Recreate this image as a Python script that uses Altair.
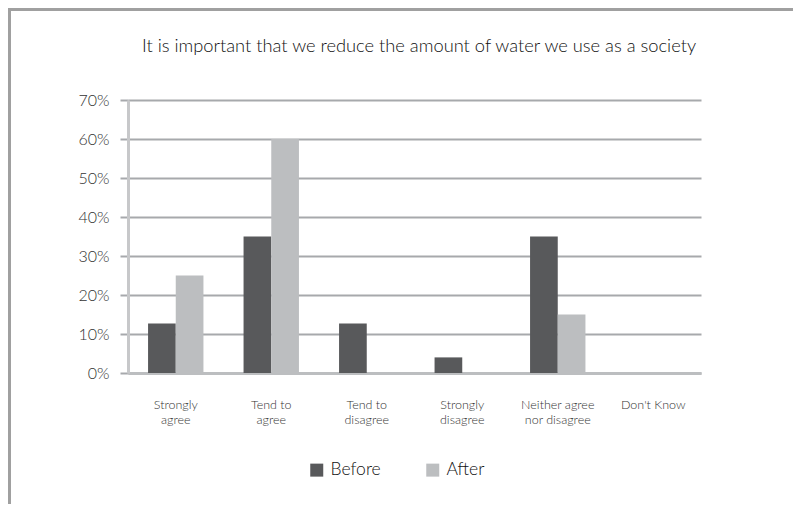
import altair as alt
import pandas as pd

categories = ["Strongly agree", "Tend to agree", "Tend to disagree",
              "Strongly disagree", "Neither agree nor disagree", "Don't Know"]
label_lines = [["Strongly", "agree"], ["Tend to", "agree"], ["Tend to", "disagree"],
               ["Strongly", "disagree"], ["Neither agree", "nor disagree"], ["Don't Know"]]
before = [0.127, 0.35, 0.127, 0.04, 0.35, 0.0]
after = [0.25, 0.60, 0.0, 0.0, 0.15, 0.0]
series = ["Before", "After"]
colors = ["#58595b", "#bcbec0"]
title_text = "It is important that we reduce the amount of water we use as a society"

rows = []
for c, b, a in zip(categories, before, after):
    rows.append({"category": c, "series": "Before", "value": b})
    rows.append({"category": c, "series": "After", "value": a})
df = pd.DataFrame(rows)

# multi-line label expression
expr = "[datum.value]"
for c, lines in zip(categories, label_lines):
    arr = "[" + ",".join("'" + l.replace("'", "\\'") + "'" for l in lines) + "]"
    cc = c.replace("'", "\\'")
    expr = f"datum.value == '{cc}' ? {arr} : ({expr})"

FONT = "Lato"

bars = alt.Chart(df).mark_bar().encode(
    x=alt.X("category:N", sort=categories,
            scale=alt.Scale(paddingInner=0.42, paddingOuter=0.21),
            axis=alt.Axis(title=None, labelAngle=0, ticks=False, labelExpr=expr,
                          labelFontSize=12.5, labelFontWeight=300, labelColor="#333333",
                          labelPadding=25, labelLineHeight=15, labelFont=FONT,
                          labelBaseline="top",
                          domainColor="#bcbec0", domainWidth=3, grid=False)),
    xOffset=alt.XOffset("series:N", sort=series, scale=alt.Scale(paddingInner=0, paddingOuter=0)),
    y=alt.Y("value:Q", scale=alt.Scale(domain=[0, 0.7], nice=False),
            axis=alt.Axis(title=None, format=".0%", values=[0, 0.1, 0.2, 0.3, 0.4, 0.5, 0.6, 0.7],
                          labelFontSize=16, labelColor="#333333", labelFont=FONT,
                          labelFontWeight=300,
                          labelPadding=11, tickSize=8, tickColor="#a7a9ac", tickWidth=2,
                          gridColor="#a7a9ac", gridWidth=2, domainColor="#c7c8ca",
                          domainWidth=3)),
    color=alt.Color("series:N", sort=series,
                    scale=alt.Scale(domain=series, range=colors),
                    legend=alt.Legend(title=None, orient="none", legendX=180, legendY=361,
                                      direction="horizontal", symbolType="square",
                                      symbolSize=169, symbolStrokeWidth=0,
                                      labelFontSize=17.5, labelFontWeight=300,
                                      labelFont=FONT, labelColor="#111111",
                                      columnPadding=43, labelOffset=5)),
)

title = alt.Chart(pd.DataFrame({"t": [title_text]})).mark_text(
    fontSize=18.3, fontWeight=300, font=FONT, color="#111111", align="center",
    baseline="middle"
).encode(text="t:N", x=alt.value(291), y=alt.value(-53))

border_left = alt.Chart(df).mark_rule(color="#a0a0a0", strokeWidth=3).encode(
    x=alt.value(-118.5), y=alt.value(-92), y2=alt.value(404))
border_top = alt.Chart(df).mark_rule(color="#a0a0a0", strokeWidth=3).encode(
    x=alt.value(-120), x2=alt.value(665), y=alt.value(-90.5))

chart = alt.layer(bars, title, border_left, border_top).properties(
    width=573, height=273,
    padding={"left": 120, "top": 92, "right": 92, "bottom": 131},
    autosize=alt.AutoSizeParams(type="none"),
).configure_view(stroke=None)

chart.save("out.html", embed_options={"renderer": "svg", "actions": False})
